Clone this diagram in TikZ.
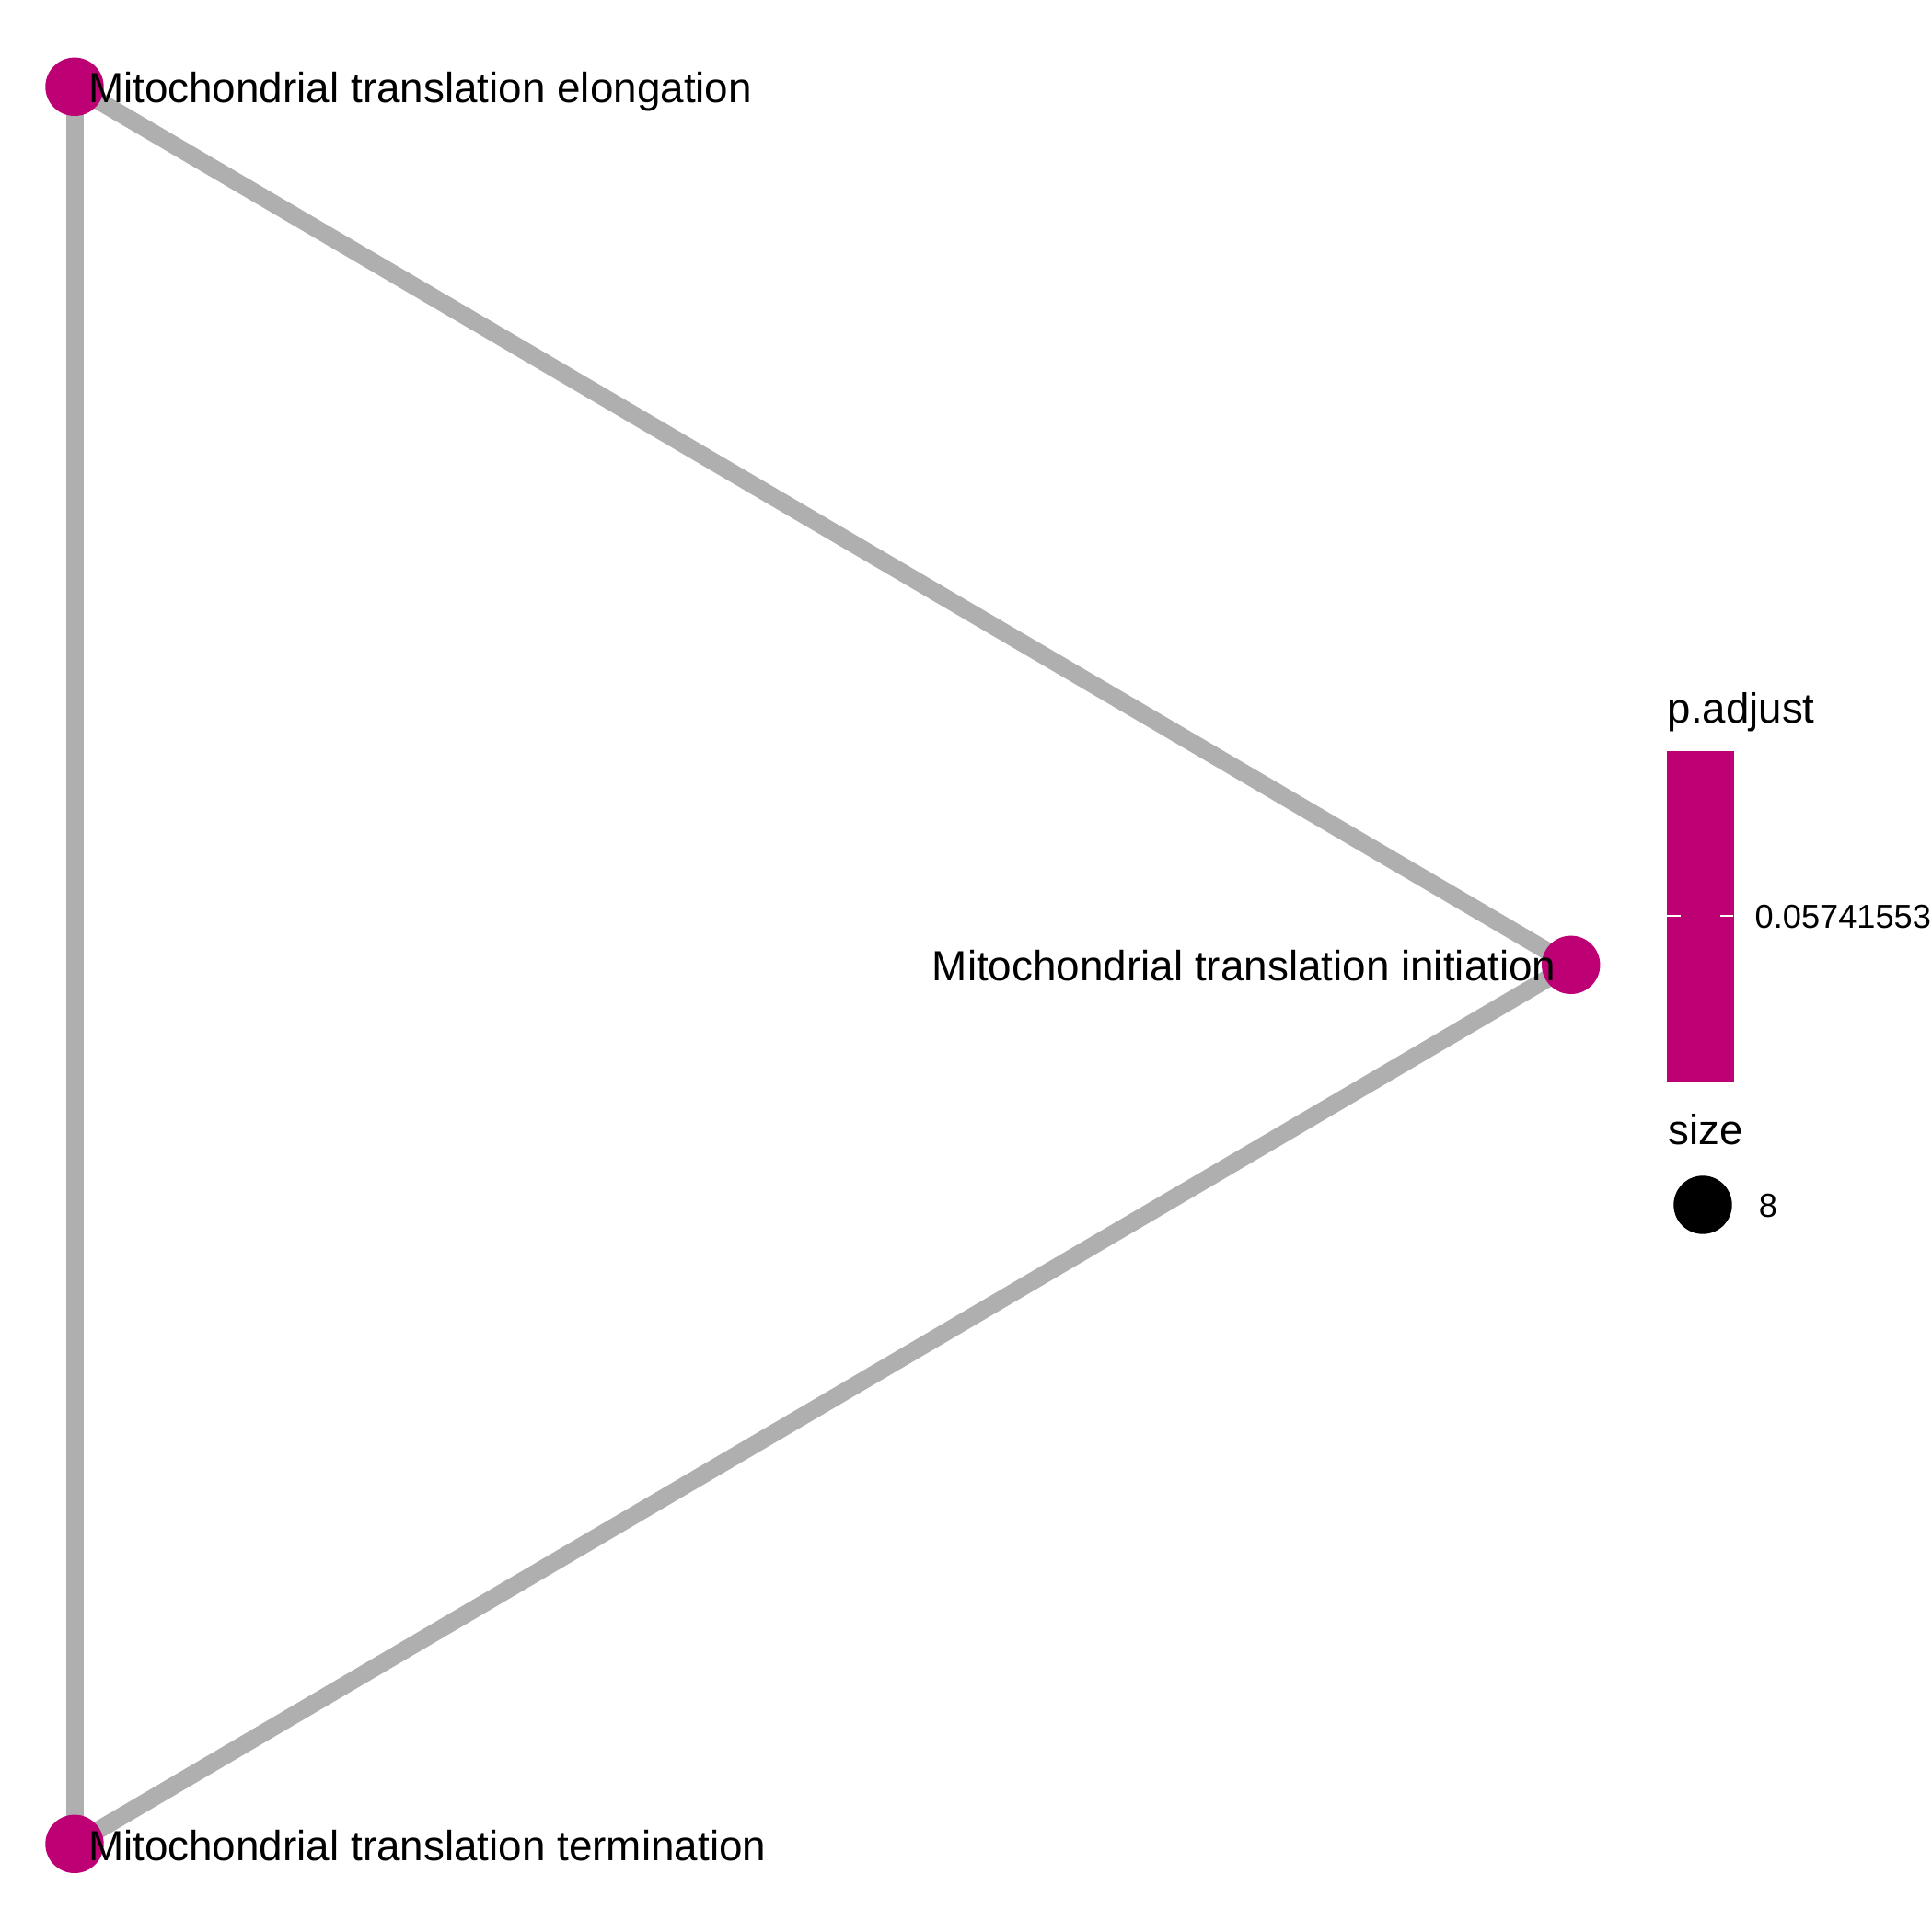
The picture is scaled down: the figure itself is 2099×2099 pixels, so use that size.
\documentclass[tikz,border=0pt]{standalone}
\usepackage{fontspec}
\setmainfont{Liberation Sans}
\definecolor{nodemag}{RGB}{189,0,116}
\definecolor{edgegray}{RGB}{175,175,175}
\begin{document}
\begin{tikzpicture}[x=0.5pt,y=-0.5pt,
  gonode/.style={circle,fill=nodemag,draw=none,minimum size=31.7pt,inner sep=0pt},
  goedge/.style={draw=edgegray,line width=9.5pt},
  golabel/.style={inner sep=0pt,font=\fontsize{22.92pt}{26pt}\selectfont},
  legtitle/.style={inner sep=0pt,anchor=base west,font=\fontsize{22.8pt}{25pt}\selectfont},
  leglabel/.style={inner sep=0pt,anchor=base west,font=\fontsize{18.1pt}{20pt}\selectfont},
  ticksty/.style={draw=white,line width=0.6pt}]
\useasboundingbox[fill=white] (0,0) rectangle (2099,2099);
% node positions
\coordinate (pe) at (81,94.3);
\coordinate (pi) at (1706.7,1048.3);
\coordinate (pt) at (81,2003.3);
% edges (under nodes)
\path[goedge] (pe) -- (pi);
\path[goedge] (pi) -- (pt);
\path[goedge] (pe) -- (pt);
% nodes
\node[gonode] (elong) at (pe) {};
\node[gonode] (init) at (pi) {};
\node[gonode] (term) at (pt) {};
% labels
\node[golabel,anchor=base west] (lelong) at (95.6,111.7) {Mitochondrial translation elongation};
\node[golabel,anchor=base east] (linit) at (1691,1065) {Mitochondrial translation initiation};
\node[golabel,anchor=base west] (lterm) at (95.6,2021.7) {Mitochondrial translation termination};
% legend: colour bar
\node[legtitle] (ptitle) at (1811.5,785.5) {p.adjust};
\node[fill=nodemag,draw=none,inner sep=0pt,anchor=north west,minimum width=36.15pt,minimum height=179.5pt] (cbar) at (1811,816) {};
\coordinate (tl1) at (1811,995);
\coordinate (tl2) at (1825.7,995);
\coordinate (tr1) at (1869,995);
\coordinate (tr2) at (1883.3,995);
\draw[ticksty] (tl1) -- (tl2);
\draw[ticksty] (tr1) -- (tr2);
\node[leglabel] (pval) at (1906.3,1008.3) {0.05741553};
% legend: size
\node[legtitle] (stitle) at (1812.5,1243.3) {size};
\node[circle,fill=black,draw=none,minimum size=31.7pt,inner sep=0pt] (sdot) at (1850,1309) {};
\node[leglabel] (sval) at (1910.5,1322.7) {8};
\end{tikzpicture}
\end{document}
